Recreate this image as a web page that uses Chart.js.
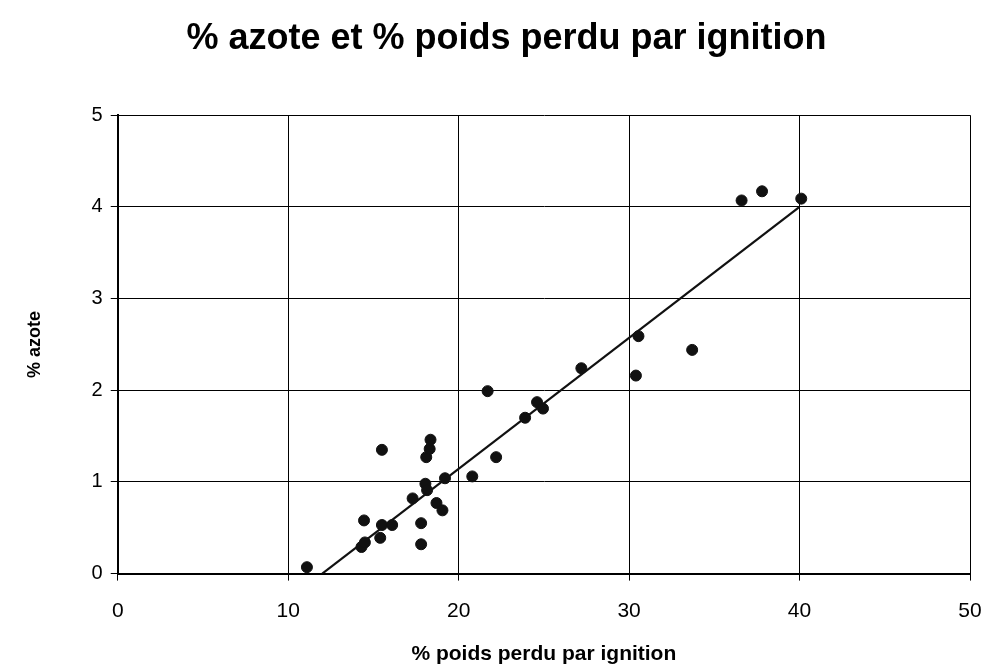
<!DOCTYPE html>
<html>
<head>
<meta charset="utf-8">
<script src="https://cdn.jsdelivr.net/npm/chart.js@4"></script>
<style>
  html, body { margin: 0; padding: 0; background: #fff; }
  #wrap { width: 989px; height: 667px; position: relative; }
</style>
</head>
<body>
<div id="wrap"><canvas id="c"></canvas></div>
<script>
// valeurs
const poidsPerdu = [11.1, 14.3, 14.5, 14.45, 15.4, 15.5, 16.1, 15.5, 17.3, 17.8, 17.8, 18.05, 18.15, 18.1, 18.3, 18.35, 18.7, 19.05, 19.2, 20.8, 22.2, 21.7, 23.9, 24.6, 24.95, 27.2, 30.55, 30.4, 33.7, 36.6, 37.8, 40.1];
const azote      = [0.07, 0.29, 0.34, 0.58, 0.39, 0.53, 0.53, 1.35, 0.82, 0.55, 0.32, 0.98, 0.91, 1.27, 1.36, 1.46, 0.77, 0.69, 1.04, 1.06, 1.27, 1.99, 1.70, 1.87, 1.80, 2.24, 2.59, 2.16, 2.44, 4.07, 4.17, 4.09];

// droite de tendance (extrémités)
const trendX = [12, 40];
const trendY = [0, 4];

const xTicks = [0, 10, 20, 30, 40, 50];
const yTicks = [0, 1, 2, 3, 4, 5];

const points = poidsPerdu.map((x, i) => ({ x: x, y: azote[i] }));
const trend = trendX.map((x, i) => ({ x: x, y: trendY[i] }));

new Chart(document.getElementById('c'), {
  type: 'scatter',
  data: {
    datasets: [
      {
        label: '% azote',
        data: points,
        backgroundColor: '#111',
        borderColor: '#111',
        pointRadius: 5.5,
        pointHoverRadius: 5.5
      },
      {
        type: 'line',
        label: 'tendance',
        data: trend,
        borderColor: '#111',
        borderWidth: 2.2,
        pointRadius: 0,
        fill: false
      }
    ]
  },
  options: {
    responsive: true,
    maintainAspectRatio: false,
    animation: false,
    layout: { padding: { left: 24, right: 0, top: 13, bottom: 0 } },
    plugins: {
      legend: { display: false },
      tooltip: { enabled: false },
      title: {
        display: true,
        text: '% azote et % poids perdu par ignition',
        color: '#000',
        font: { family: 'Liberation Sans, Arial, sans-serif', size: 36, weight: 'bold' },
        padding: { top: 4, bottom: 55 }
      }
    },
    scales: {
      x: {
        type: 'linear',
        min: 0,
        max: 50,
        afterBuildTicks: (axis) => { axis.ticks = xTicks.map(v => ({ value: v })); },
        // marge droite réduite (le libellé "50" déborde un peu)
        afterFit: (axis) => { axis.paddingRight = 19; },
        grid: { color: '#000', lineWidth: 1, tickLength: 7, drawTicks: true },
        border: { color: '#000', width: 2 },
        ticks: {
          color: '#000',
          padding: 18,
          maxRotation: 0,
          font: { family: 'Liberation Sans Narrow, Liberation Sans, Arial, sans-serif', size: 21 }
        },
        title: {
          display: true,
          text: '% poids perdu par ignition',
          color: '#000',
          font: { family: 'Liberation Sans Narrow, Liberation Sans, Arial, sans-serif', size: 21, weight: 'bold' },
          padding: { top: 0, bottom: 0 }
        }
      },
      y: {
        type: 'linear',
        min: 0,
        max: 5,
        afterBuildTicks: (axis) => { axis.ticks = yTicks.map(v => ({ value: v })); },
        grid: { color: '#000', lineWidth: 1, tickLength: 7, drawTicks: true },
        border: { color: '#000', width: 2 },
        ticks: {
          color: '#000',
          padding: 8,
          font: { family: 'Liberation Sans, Arial, sans-serif', size: 20 }
        },
        title: {
          display: true,
          text: '% azote',
          color: '#000',
          font: { family: 'Liberation Sans, Arial, sans-serif', size: 18, weight: 'bold' },
          padding: { top: 0, bottom: 38 }
        }
      }
    }
  }
});
</script>
</body>
</html>
